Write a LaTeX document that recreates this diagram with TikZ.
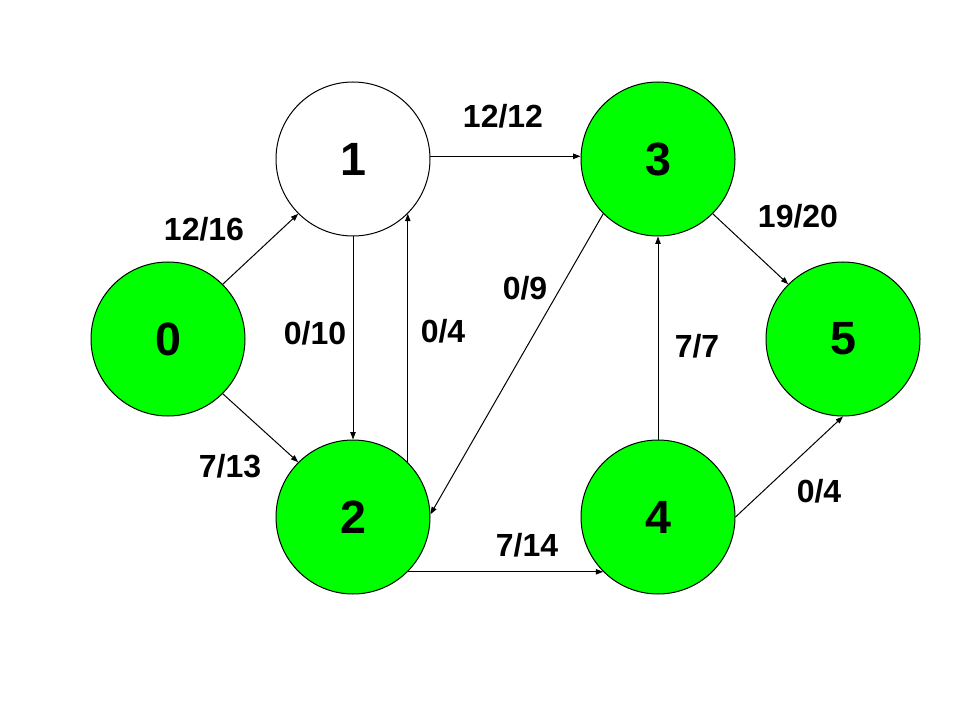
\documentclass[tikz,border=0pt]{standalone}
\usepackage{fontspec}
\setmainfont{Liberation Sans}
\usetikzlibrary{arrows.meta}
\definecolor{nodegreen}{RGB}{0,255,0}
\begin{document}
\begin{tikzpicture}[x=0.75pt,y=-0.75pt,
  vert/.style={circle,draw=black,line width=0.75pt,minimum size=115.5pt,inner sep=0pt,font=\fontsize{35}{40}\selectfont\bfseries},
  greenvert/.style={vert,fill=nodegreen},
  whitevert/.style={vert,fill=white},
  edge/.style={line width=0.75pt,-{Triangle[length=5.5pt,width=4pt]}},
  lbl/.style={font=\fontsize{24}{28}\selectfont\bfseries,inner sep=0pt}]
\useasboundingbox (0,0) rectangle (960,720);
\fill[fill=white] (0,0) rectangle (960,720);
\node[greenvert] (n0) at (168,339) {0};
\node[whitevert] (n1) at (353,159) {1};
\node[greenvert] (n2) at (353,517) {2};
\node[greenvert] (n3) at (658,159) {3};
\node[greenvert] (n4) at (658,517) {4};
\node[greenvert] (n5) at (843,339) {5};
\draw[edge] (n0.45) -- (n1.225);
\draw[edge] (n0.-45) -- (n2.135);
\draw[edge] (n1.south) -- (n2.north);
\draw[edge] (n2.45) -- (n1.-45);
\draw[edge] (n1.2) -- (n3.178);
\draw[edge] (n3.225) -- (n2.2);
\draw[edge] (n2.-45) -- (n4.-135);
\draw[edge] (n3.-45) -- (n5.135);
\draw[edge] (n4.north) -- (n3.south);
\draw[edge] (n4.east) -- (n5.south);
\node[lbl] (l01) at (204,229) {12/16};
\node[lbl] (l02) at (230,466) {7/13};
\node[lbl] (l13) at (503,116) {12/12};
\node[lbl] (l12) at (315,333) {0/10};
\node[lbl] (l21) at (443,331) {0/4};
\node[lbl] (l32) at (525,288) {0/9};
\node[lbl] (l35) at (798,216) {19/20};
\node[lbl] (l43) at (697,346) {7/7};
\node[lbl] (l45) at (819,491) {0/4};
\node[lbl] (l24) at (527,545) {7/14};
\end{tikzpicture}
\end{document}
